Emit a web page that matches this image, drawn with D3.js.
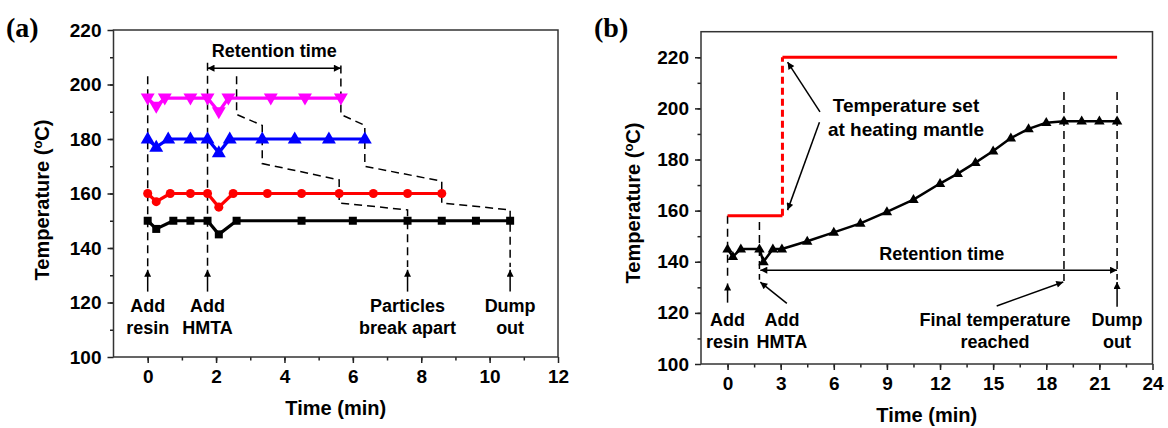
<!DOCTYPE html>
<html><head><meta charset="utf-8">
<script src="https://cdn.jsdelivr.net/npm/d3@7"></script>
<style>
body{margin:0;background:#fff}
svg{display:block}
text{font-family:"Liberation Sans",Arial,sans-serif;font-weight:bold;fill:#000}
</style>
</head><body>
<svg id="c" width="1168" height="428"></svg>
<script>
// ---------- Panel (a) data ----------
const timeA195 = [0,0.25,0.5,1.25,1.75,2.08,2.36,3.6,4.6,5.65];
const tempA195 = [195,192,195,195,195,190,195,195,195,195];
const timeA180 = [0,0.25,0.6,1.25,1.75,2.08,2.4,3.35,4.3,5.3,6.35];
const tempA180 = [180,177,180,180,180,175,180,180,180,180,180];
const timeA160 = [0,0.25,0.66,1.25,1.75,2.08,2.5,3.5,4.5,5.6,6.6,7.6,8.6];
const tempA160 = [160,157,160,160,160,155,160,160,160,160,160,160,160];
const timeA150 = [0,0.25,0.75,1.25,1.75,2.08,2.6,4.5,6.0,7.6,8.6,9.6,10.6];
const tempA150 = [150,147,150,150,150,145,150,150,150,150,150,150,150];
const breakApartTime = [2.6,2.6,3.35,3.35,5.6,5.6,7.6,7.6];
const breakApartTemp = [203,189,185,171,165,156.5,154,133];
const dumpOutTime = [5.65,5.65,6.35,6.35,8.6,8.6,10.6,10.6];
const dumpOutTemp = [207,189,185,170,164.5,156.5,154,133];
const xTicksA = [0,2,4,6,8,10,12];
const yTicks = [100,120,140,160,180,200,220];

// ---------- Panel (b) data ----------
const timeB = [0,0.3,0.75,1.8,2.03,2.56,3.07,4.5,6.0,7.5,9.0,10.5,12.0,13.0,14.0,15.0,16.0,17.0,18.0,19.0,20.0,21.0,22.0];
const tempB = [145,142,145,145,140,145,145,148,151.5,155,159.5,164.3,170.6,174.5,178.8,183.3,188.4,192,194.4,195,195,195,195];
const setTimeLow = [0,3.1];
const setTempLow = [158,158];
const setTimeJump = [3.1,3.1];
const setTempJump = [158,220];
const setTimeHigh = [3.1,22];
const setTempHigh = [220,220];
const xTicksB = [0,3,6,9,12,15,18,21,24];

const svg = d3.select("#c");
const defs = svg.append("defs");
defs.append("marker").attr("id","ah").attr("viewBox","0 0 10 10")
  .attr("refX",10).attr("refY",5).attr("markerWidth",9).attr("markerHeight",7)
  .attr("markerUnits","userSpaceOnUse").attr("orient","auto-start-reverse")
  .append("path").attr("d","M0,0L10,5L0,10Z").attr("fill","#000");

function makePanel(opt){
  const g = svg.append("g");
  const x = d3.scaleLinear().domain(opt.xd).range([opt.l,opt.r]);
  const y = d3.scaleLinear().domain(opt.yd).range([opt.b,opt.t]);
  const xMinor = d3.range(opt.xd[0], opt.xd[1]+1e-9, opt.xMinorStep).filter(v=>v>opt.xd[0]+1e-9 && v<opt.xd[1]-1e-9);
  const yMinor = d3.range(100, opt.yd[1]+1e-9, 10).filter(v=>v>opt.yd[0]+1e-9 && v<opt.yd[1]-1e-9);
  g.append("g").attr("transform",`translate(0,${opt.b})`)
    .call(d3.axisBottom(x).tickValues(xMinor).tickSize(3.5).tickSizeOuter(0).tickFormat(""))
    .call(s=>s.select(".domain").remove());
  g.append("g").attr("transform",`translate(${opt.l},0)`)
    .call(d3.axisLeft(y).tickValues(yMinor).tickSize(3.5).tickSizeOuter(0).tickFormat(""))
    .call(s=>s.select(".domain").remove());
  g.append("g").attr("transform",`translate(0,${opt.b})`)
    .call(d3.axisBottom(x).tickValues(opt.xTicks).tickSize(6).tickSizeOuter(0).tickPadding(7))
    .call(s=>s.select(".domain").remove());
  g.append("g").attr("transform",`translate(${opt.l},0)`)
    .call(d3.axisLeft(y).tickValues(yTicks).tickSize(6).tickSizeOuter(0).tickPadding(6))
    .call(s=>s.select(".domain").remove());
  g.selectAll(".tick line").attr("stroke","#222").attr("stroke-width",1.5);
  g.selectAll(".tick text").style("font-size","19px").style("font-family",'"Liberation Sans",Arial,sans-serif').style("font-weight","bold").attr("fill","#000");
  g.append("rect").attr("x",opt.l).attr("y",opt.t).attr("width",opt.r-opt.l).attr("height",opt.b-opt.t)
    .attr("fill","none").attr("stroke","#333").attr("stroke-width",1.5);
  g.append("text").attr("x",(opt.l+opt.r)/2).attr("y",opt.b+58).attr("text-anchor","middle")
    .style("font-size","20px").text("Time (min)");
  const yt = g.append("text").attr("transform",`translate(${opt.ytx},${opt.yty}) rotate(-90)`)
    .attr("text-anchor","middle").style("font-size","20px");
  yt.append("tspan").text("Temperature (");
  yt.append("tspan").attr("dy",-7).style("font-size","13px").text("o");
  yt.append("tspan").attr("dy",7).text("C)");
  g.append("text").attr("x",opt.labx).attr("y",opt.laby)
    .style("font-family",'"Liberation Serif","Times New Roman",serif').style("font-size","28px").text(opt.label);
  return {g,x,y};
}

const A = makePanel({l:113.5,r:558,t:30,b:357,xd:[-1,12],yd:[100,220],xTicks:xTicksA,xMinorStep:1,
  ytx:49,yty:200,labx:6,laby:37,label:"(a)"});
const B = makePanel({l:701,r:1152.5,t:31.7,b:364,xd:[-1.5,24],yd:[100,230],xTicks:xTicksB,xMinorStep:1.5,
  ytx:640,yty:203,labx:594,laby:37,label:"(b)"});

function line(P, xs, ys, attrs){
  const pts = xs.map((v,i)=>[v,ys[i]]);
  const p = P.g.append("path").datum(pts).attr("fill","none")
    .attr("d", d3.line().x(d=>P.x(d[0])).y(d=>P.y(d[1])));
  for(const k in attrs) p.attr(k, attrs[k]);
  return p;
}
function arrow(P, x1,y1,x2,y2, both){
  const p = P.g.append("line").attr("x1",P.x(x1)).attr("y1",P.y(y1)).attr("x2",P.x(x2)).attr("y2",P.y(y2))
    .attr("stroke","#000").attr("stroke-width",1.5).attr("marker-end","url(#ah)");
  if(both) p.attr("marker-start","url(#ah)");
}
function label(P, xv, yv, lines, size){
  lines.forEach((t,i)=>{
    P.g.append("text").attr("x",P.x(xv)).attr("y",P.y(yv)+i*22).attr("dy","0.35em")
      .attr("text-anchor","middle").style("font-size",(size||18)+"px").text(t);
  });
}
const dash = {stroke:"#000","stroke-width":1.5,"stroke-dasharray":"8,5"};

// ---------- Panel (a) ----------
line(A,[0,0],[203,133],dash);
line(A,[1.75,1.75],[208,133],dash);
line(A,breakApartTime,breakApartTemp,dash);
line(A,dumpOutTime,dumpOutTemp,dash);
arrow(A,1.75,206,5.65,206,true);
A.g.append("text").attr("x",A.x(3.7)).attr("y",A.y(212.5)).attr("dy","0.35em").attr("text-anchor","middle").style("font-size","18px").text("Retention time");
[0,1.75,7.6,10.6].forEach(t=>arrow(A,t,124,t,132));
label(A,0,118.7,["Add","resin"]);
label(A,1.75,118.7,["Add","HMTA"]);
label(A,7.6,118.7,["Particles","break apart"]);
label(A,10.6,118.7,["Dump","out"]);

const seriesA = [
  {t:timeA195,v:tempA195,c:"#ff00ff",sym:"down"},
  {t:timeA180,v:tempA180,c:"#0000ff",sym:"up"},
  {t:timeA160,v:tempA160,c:"#ff0000",sym:"circle"},
  {t:timeA150,v:tempA150,c:"#000000",sym:"square"}
];
const triUp = s=>`M0,${-s*0.62}L${s*0.58},${s*0.38}L${-s*0.58},${s*0.38}Z`;
const triDown = s=>`M0,${s*0.62}L${s*0.58},${-s*0.38}L${-s*0.58},${-s*0.38}Z`;
seriesA.forEach(s=>{
  line(A,s.t,s.v,{stroke:s.c,"stroke-width":3.2,"stroke-linejoin":"round"});
  const pts = s.t.map((v,i)=>[v,s.v[i]]);
  const m = A.g.append("g").selectAll("path").data(pts).join("path")
    .attr("transform",d=>`translate(${A.x(d[0])},${A.y(d[1])})`).attr("fill",s.c);
  if(s.sym==="up") m.attr("d",triUp(12));
  else if(s.sym==="down") m.attr("d",triDown(12));
  else if(s.sym==="circle") m.attr("d",d3.symbol(d3.symbolCircle,64)());
  else m.attr("d","M-4,-4H4V4H-4Z");
});

// ---------- Panel (b) ----------
line(B,[0,0],[158,133],dash);
line(B,[1.8,1.8],[155.6,133],dash);
line(B,[19,19],[206.4,132.5],dash);
line(B,[22,22],[206.4,133],dash);
line(B,setTimeLow,setTempLow,{stroke:"#ff0000","stroke-width":3});
line(B,setTimeJump,setTempJump,{stroke:"#ff0000","stroke-width":3,"stroke-dasharray":"7,4"});
line(B,setTimeHigh,setTempHigh,{stroke:"#ff0000","stroke-width":3});
line(B,timeB,tempB,{stroke:"#000","stroke-width":2.5,"stroke-linejoin":"round"});
B.g.append("g").selectAll("path").data(timeB.map((v,i)=>[v,tempB[i]])).join("path")
  .attr("transform",d=>`translate(${B.x(d[0])},${B.y(d[1])})`).attr("d",triUp(9)).attr("fill","#000");

arrow(B,1.85,136.7,22,136.7,true);
B.g.append("text").attr("x",B.x(12.1)).attr("y",B.y(143.3)).attr("dy","0.35em").attr("text-anchor","middle").style("font-size","18px").text("Retention time");
arrow(B,0,124,0,131.5);
arrow(B,3.35,123.7,1.85,132);
arrow(B,15.2,122.7,18.96,132.1);
arrow(B,22,122.4,22,132.1);
arrow(B,5.22,198.6,3.39,218.1);
arrow(B,5.19,194.6,3.39,160.2);
label(B,0,117.5,["Add","resin"]);
label(B,3.07,117.5,["Add","HMTA"]);
label(B,15.1,117.5,["Final temperature","reached"]);
label(B,22,117.5,["Dump","out"]);
B.g.append("text").attr("x",906).attr("y",105).attr("dy","0.35em").attr("text-anchor","middle").style("font-size","19px").text("Temperature set");
B.g.append("text").attr("x",906).attr("y",129).attr("dy","0.35em").attr("text-anchor","middle").style("font-size","19px").text("at heating mantle");
</script>
</body></html>
